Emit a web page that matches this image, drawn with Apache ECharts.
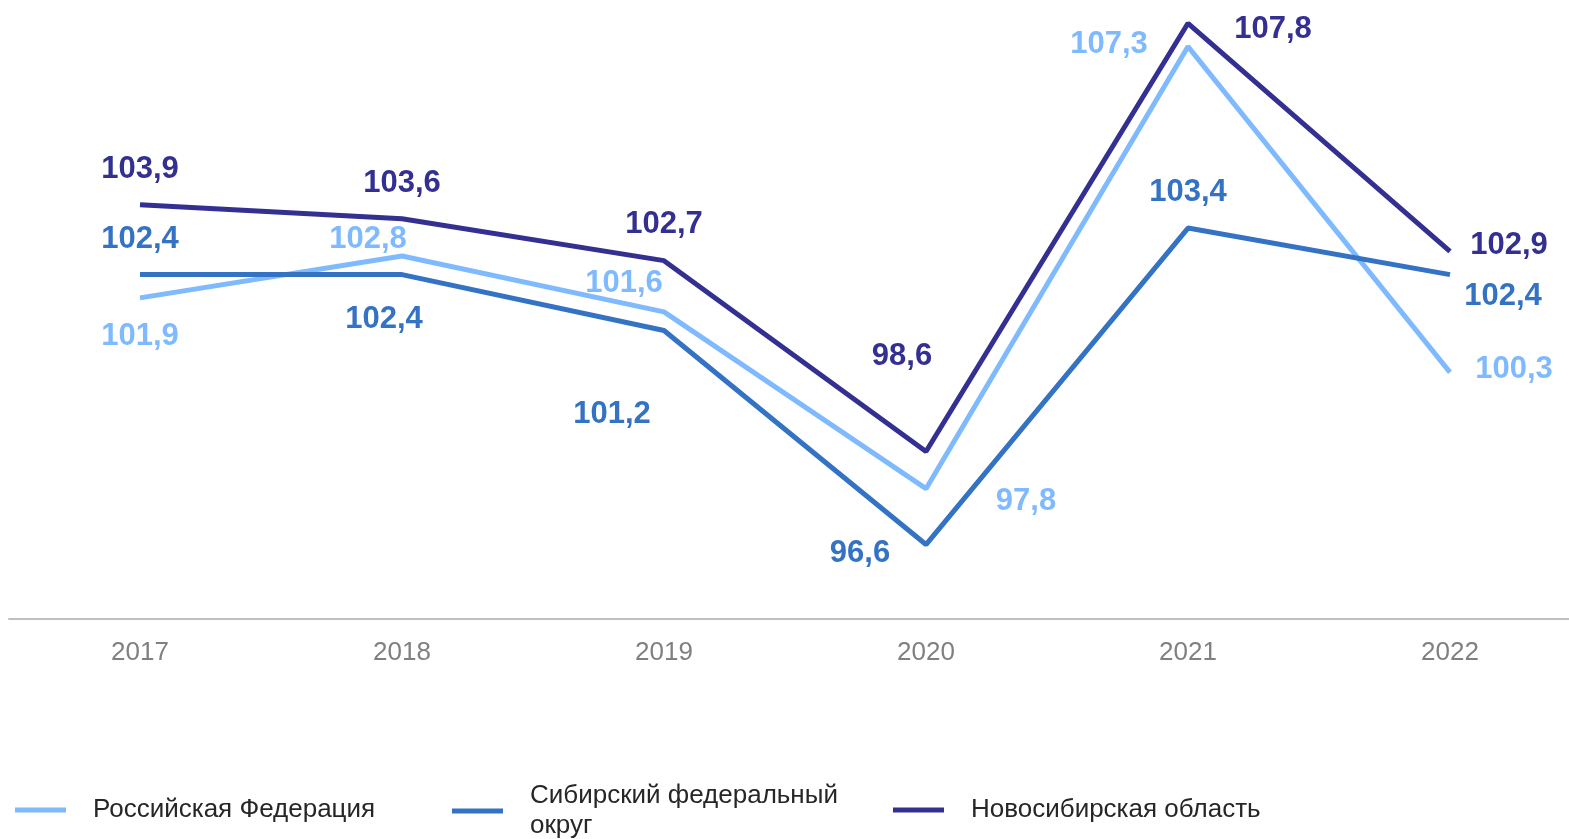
<!DOCTYPE html>
<html>
<head>
<meta charset="utf-8">
<script src="https://cdn.jsdelivr.net/npm/echarts@6/dist/echarts.min.js"></script>
<style>
  html, body { margin: 0; padding: 0; background: #fff; }
  #chart { width: 1569px; height: 839px; }
</style>
</head>
<body>
<div id="chart"></div>
<script>
// данные
const years = ['2017', '2018', '2019', '2020', '2021', '2022'];
const rf = [101.9, 102.8, 101.6, 97.8, 107.3, 100.3];
const sfo = [102.4, 102.4, 101.2, 96.6, 103.4, 102.4];
const nso = [103.9, 103.6, 102.7, 98.6, 107.8, 102.9];
const names = ['Российская Федерация', 'Сибирский федеральный\nокруг', 'Новосибирская область'];

// смещения подписей
const rfOffsets = [[0, 39], [-34, -17], [-40, -28], [100, 13], [-79, -2], [64, -3]];
const sfoOffsets = [[0, -35], [-18, 45], [-52, 84], [-66, 9], [0, -36], [53, 22]];
const nsoOffsets = [[0, -35], [0, -35], [0, -36], [-24, -95], [85, 6], [59, -6]];

const colors = ['#7fbaff', '#3472c4', '#343092'];
const font = 'Liberation Sans, Arial, sans-serif';

function makeSeries(name, values, offsets, color) {
  return {
    name: name,
    type: 'line',
    symbol: 'circle',
    symbolSize: 0,
    lineStyle: { color: color, width: 5 },
    itemStyle: { color: color },
    data: values.map((v, i) => ({
      value: v,
      label: { offset: offsets[i] }
    })),
    label: {
      show: true,
      position: 'inside',
      color: color,
      fontFamily: font,
      fontWeight: 'bold',
      fontSize: 31,
      formatter: p => String(p.value).replace('.', ',')
    },
    emphasis: { disabled: true },
    animation: false
  };
}

function makeLegend(name, left, top) {
  return {
    data: [name],
    left: left,
    top: top,
    padding: 0,
    icon: 'rect',
    itemWidth: 51,
    itemHeight: 5,
    itemGap: 0,
    selectedMode: false,
    textStyle: {
      fontFamily: font,
      fontSize: 26,
      color: '#262626',
      lineHeight: 30,
      padding: [0, 0, 0, 22]
    }
  };
}

const chart = echarts.init(document.getElementById('chart'));
chart.setOption({
  backgroundColor: '#fff',
  animation: false,
  grid: { left: 9, top: 14, right: -12, bottom: 220, outerBoundsMode: 'none', containLabel: false },
  legend: [
    makeLegend(names[0], 15, 795),
    makeLegend(names[1], 452, 781),
    makeLegend(names[2], 893, 795)
  ],
  xAxis: {
    type: 'category',
    data: years,
    boundaryGap: true,
    axisLine: { lineStyle: { color: '#bfbfbf', width: 2 } },
    axisTick: { show: false },
    axisLabel: {
      color: '#808080',
      fontSize: 26,
      margin: 21,
      fontFamily: font
    }
  },
  yAxis: {
    type: 'value',
    min: 95,
    max: 108,
    show: false,
    splitLine: { show: false }
  },
  series: [
    makeSeries(names[0], rf, rfOffsets, colors[0]),
    makeSeries(names[1], sfo, sfoOffsets, colors[1]),
    makeSeries(names[2], nso, nsoOffsets, colors[2])
  ]
});
</script>
</body>
</html>
